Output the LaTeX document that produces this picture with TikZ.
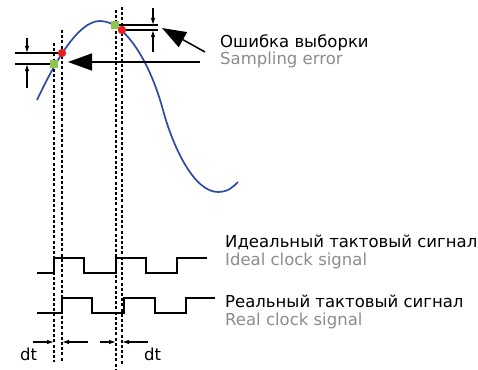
\documentclass[tikz,border=0pt]{standalone}
\usepackage{fontspec}
\setmainfont{DejaVu Sans}
\usetikzlibrary{arrows.meta}

\definecolor{curveblue}{RGB}{45,75,165}
\definecolor{samplegreen}{RGB}{140,198,80}
\definecolor{samplered}{RGB}{235,30,35}
\definecolor{labelgray}{RGB}{140,140,140}

\begin{document}
\begin{tikzpicture}[x=1pt,y=-1pt,
    guide/.style={black, line width=1.2pt, dash pattern=on 3pt off 2.2pt},
    clock/.style={black, line width=1.8pt},
    level/.style={black, line width=1.1pt},
    tick/.style={-{Latex[length=7pt,width=4.5pt]}, line width=1.1pt},
    bigarrow/.style={-{Triangle[length=24pt,width=17pt]}, line width=1.5pt},
    ru/.style={anchor=base west, inner sep=0pt, font=\fontsize{16.5}{20}\selectfont},
    en/.style={ru, text=labelgray}]

  \useasboundingbox (0,0) rectangle (478,369);

  % Sampled signal
  \draw[curveblue, line width=1.7pt] (37,100) .. controls (55,62) and (78,21) .. (100,21)
    .. controls (125,21) and (150,62) .. (163,110)
    .. controls (173,147) and (194,192) .. (218,192)
    .. controls (228,192) and (233,187) .. (238,182);

  % Clock edges (dashed guides)
  \draw[guide] (54,43) -- (54,362);
  \draw[guide] (62,30) -- (62,362);
  \draw[guide] (116,10) -- (116,369);
  \draw[guide] (122,7) -- (122,365);

  % Sample levels
  \draw[level] (15,53) -- (62,53);
  \draw[level] (15,64) -- (54,64);
  \draw[level] (116,25) -- (158,25);
  \draw[level] (122,30) -- (158,30);

  % Error marks
  \coordinate (la) at (27,38);
  \coordinate (lb) at (27,88);
  \coordinate (ra) at (153,8);
  \coordinate (rb) at (153,52);
  \draw[tick] (la) -- (27,53);
  \draw[tick] (lb) -- (27,64);
  \draw[tick] (ra) -- (153,25);
  \draw[tick] (rb) -- (153,30);

  % Samples
  \fill[samplegreen] (50,60) rectangle (58,68);
  \fill[samplegreen] (111,21) rectangle (119,29);
  \fill[samplered] (62,53) circle (4.2);
  \fill[samplered] (122,30) circle (4.2);

  % Labels
  \node[ru] (errru) at (220,48) {Ошибка выборки};
  \node[en] (erren) at (220,64) {Sampling error};
  \node[ru] (idealru) at (225,247) {Идеальный тактовый сигнал};
  \node[en] (idealen) at (225,265) {Ideal clock signal};
  \node[ru] (realru) at (225,307) {Реальный тактовый сигнал};
  \node[en] (realen) at (225,325) {Real clock signal};

  % Pointers to the error
  \coordinate (pa) at (200,62);
  \coordinate (pb) at (205,52);
  \draw[bigarrow] (pa) -- (68,62);
  \draw[bigarrow] (pb) -- (162,28);

  % Clock signals
  \draw[clock] (37,273) -- (54,273) -- (54,258) -- (84,258) -- (84,273) -- (116,273)
    -- (116,258) -- (146,258) -- (146,273) -- (177,273) -- (177,258) -- (207,258);
  \draw[clock] (37,313) -- (62,313) -- (62,298) -- (92,298) -- (92,313) -- (124,313)
    -- (124,298) -- (155,298) -- (155,313) -- (186,313) -- (186,298) -- (215,298);

  % Delay dt
  \coordinate (d1) at (33,342);
  \coordinate (d2) at (88,342);
  \coordinate (d3) at (100,342);
  \coordinate (d4) at (148,342);
  \draw[tick] (d1) -- (54,342);
  \draw[tick] (d2) -- (62,342);
  \draw[tick] (d3) -- (116,342);
  \draw[tick] (d4) -- (122,342);
  \node[ru] (dtl) at (20,360) {dt};
  \node[ru] (dtr) at (144,360) {dt};

\end{tikzpicture}
\end{document}
